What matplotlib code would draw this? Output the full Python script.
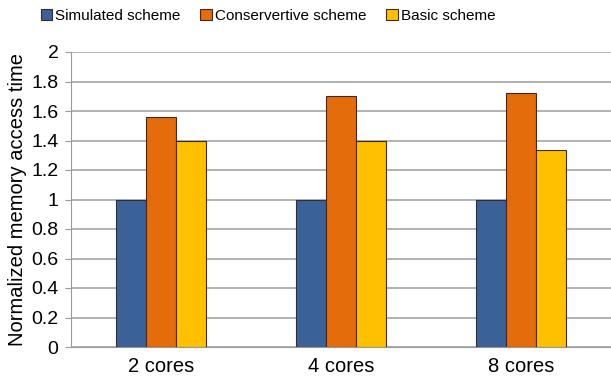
import matplotlib
matplotlib.use("Agg")
import matplotlib.pyplot as plt
import numpy as np

categories = ["2 cores", "4 cores", "8 cores"]
series_names = ["Simulated scheme", "Conservertive scheme", "Basic scheme"]
simulated = [1.0, 1.0, 1.0]
conservative = [1.56, 1.70, 1.72]
basic = [1.40, 1.40, 1.335]
colors = ["#3A6299", "#E46C0A", "#FFC000"]
yticks = [0, 0.2, 0.4, 0.6, 0.8, 1, 1.2, 1.4, 1.6, 1.8, 2]
ytick_labels = ["0", "0.2", "0.4", "0.6", "0.8", "1", "1.2", "1.4", "1.6", "1.8", "2"]

plt.rcParams['font.family'] = ['Liberation Sans', 'DejaVu Sans']

fig = plt.figure(figsize=(6.11, 3.8), dpi=100)
ax = fig.add_axes([71/611, 1 - 347/380, 540/611, 295/380])

x = np.arange(len(categories))
w = 1/6
for i, (vals, name) in enumerate(zip([simulated, conservative, basic], series_names)):
    ax.bar(x + (i - 1) * w, vals, width=w, color=colors[i], edgecolor="#3a2a2a",
           linewidth=0.8, label=name, zorder=3)

ax.set_xlim(-0.5, 2.5)
ax.set_ylim(0, 2)
ax.set_yticks(yticks)
ax.set_yticklabels(ytick_labels, fontsize=14)
ax.set_xticks(x)
ax.set_xticklabels(categories, fontsize=14.5)
ax.tick_params(axis='x', length=0, pad=7)
ax.tick_params(axis='y', length=4, color="#999999", pad=5)
ax.yaxis.grid(True, color="#a6a6a6", linewidth=1.2, zorder=0)
ax.set_axisbelow(True)
for s in ["top", "right"]:
    ax.spines[s].set_visible(False)
ax.spines["left"].set_color("#999999")
ax.spines["bottom"].set_color("#999999")
ax.set_ylabel("Normalized memory access time", fontsize=14.5, labelpad=3)

leg = fig.legend(loc="center", bbox_to_anchor=(268/611, 1 - 16/380), ncol=3, frameon=False,
                 fontsize=11, handlelength=0.75, handleheight=0.75, handletextpad=0.2,
                 columnspacing=1.3)

fig.savefig("out.png", dpi=100)
